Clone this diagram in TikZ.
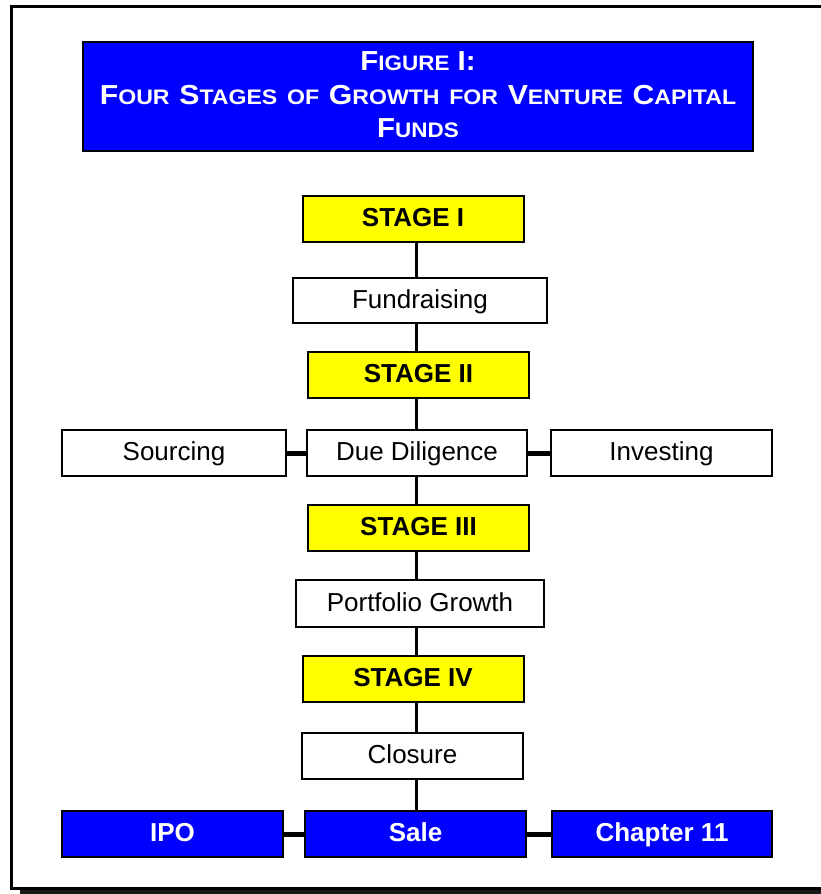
\documentclass[tikz,border=0pt]{standalone}
\usepackage{fontspec}
\setmainfont{Liberation Sans}
\newfontfamily\titlefont[FakeStretch=1.07]{Liberation Sans}
\newfontfamily\titlefontwide[FakeStretch=1.1]{Liberation Sans}
\definecolor{vblue}{RGB}{0,0,255}
\definecolor{vyellow}{RGB}{255,255,0}
\newcommand\bigsc[2]{{\fontsize{27.5}{34}\selectfont #1}{\fontsize{21}{34}\selectfont #2}}
\newcommand\smallsc[1]{{\fontsize{21}{34}\selectfont #1}}
\newcommand\wsp{\hspace{9.7pt}}
\begin{document}
\begin{tikzpicture}[x=1pt,y=-1pt,
  box/.style={draw=black, line width=2pt, minimum width=221pt, minimum height=46pt,
    inner sep=0pt, text height=20pt, text depth=5pt,
    font=\fontsize{26}{30}\selectfont, text=black},
  stagebox/.style={box, fill=vyellow, font=\fontsize{26}{30}\selectfont\bfseries},
  whitebox/.style={box, fill=white},
  bluebox/.style={box, fill=vblue, text=white, font=\fontsize{26}{30}\selectfont\bfseries},
  titlebox/.style={draw=black, line width=2pt, fill=vblue,
    minimum width=670pt, minimum height=109pt, inner sep=0pt},
  titletext/.style={text=white, align=center, inner sep=0pt,
    font=\titlefont\bfseries\fontsize{27.5}{33.5}\selectfont},
  vlink/.style={line width=3pt},
  hlink/.style={line width=5pt}]
\useasboundingbox (0,0) rectangle (820,894);
% outer frame with shadow
\draw[line width=4pt, black!90] (20,891.5) -- (835,891.5);
\draw[line width=3pt] (11,6) rectangle (835,888.5);
% title
\node[titlebox] (title) at (418,96.5) {};
\node[titletext] (titletxt) at ([yshift=1.5pt]title.center)
  {\bigsc{F}{IGURE} I:\\
   {\titlefontwide\bfseries\bigsc{F}{OUR}\wsp\bigsc{S}{TAGES}\wsp\smallsc{OF}\wsp\bigsc{G}{ROWTH}\wsp\smallsc{FOR}\wsp\bigsc{V}{ENTURE}\wsp\bigsc{C}{APITAL}}\\
   \bigsc{F}{UNDS}};
% nodes
\node[stagebox] (s1) at (413,218.5) {STAGE I};
\node[whitebox, minimum width=254pt, minimum height=45pt] (fund) at (420,300.5) {Fundraising};
\node[stagebox] (s2) at (418.5,375) {STAGE II};
\node[whitebox, minimum width=224pt] (src) at (174,453) {Sourcing};
\node[whitebox, minimum width=220pt] (dd) at (417,453) {Due Diligence};
\node[whitebox] (inv) at (661.5,453) {Investing};
\node[stagebox] (s3) at (418.5,528) {STAGE III};
\node[whitebox, minimum width=248pt, minimum height=47pt] (pg) at (420,603.5) {Portfolio Growth};
\node[stagebox] (s4) at (413,679) {STAGE IV};
\node[whitebox] (clo) at (412.5,756) {Closure};
\node[bluebox] (ipo) at (172.5,834) {IPO};
\node[bluebox] (sale) at (415.5,834) {Sale};
\node[bluebox, minimum width=220pt] (ch) at (662,834) {Chapter 11};
% spine
\coordinate (spine) at (416,0);
\draw[vlink] (s1.south -| spine) -- (fund.north -| spine);
\draw[vlink] (fund.south -| spine) -- (s2.north -| spine);
\draw[vlink] (s2.south -| spine) -- (dd.north -| spine);
\draw[vlink] (dd.south -| spine) -- (s3.north -| spine);
\draw[vlink] (s3.south -| spine) -- (pg.north -| spine);
\draw[vlink] (pg.south -| spine) -- (s4.north -| spine);
\draw[vlink] (s4.south -| spine) -- (clo.north -| spine);
\draw[vlink] (clo.south -| spine) -- (sale.north -| spine);
% side links
\draw[hlink] (src.east) -- (dd.west);
\draw[hlink] (dd.east) -- (inv.west);
\draw[hlink] (ipo.east) -- (sale.west);
\draw[hlink] (sale.east) -- (ch.west);
\end{tikzpicture}
\end{document}
